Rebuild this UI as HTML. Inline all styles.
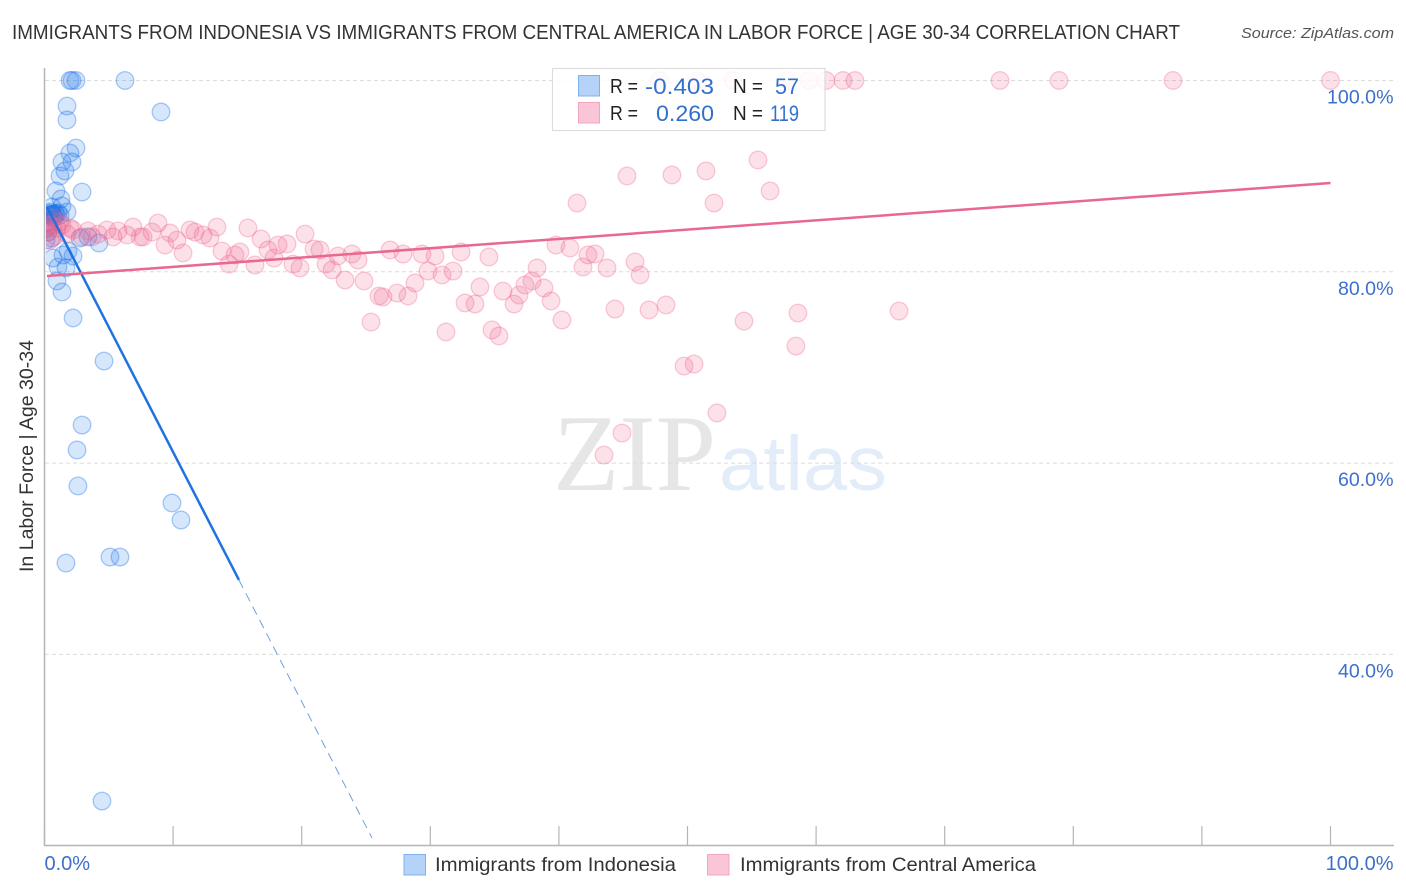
<!DOCTYPE html>
<html lang="en">
<head>
<meta charset="utf-8">
<title>Immigrants from Indonesia vs Immigrants from Central America in Labor Force | Age 30-34 Correlation Chart</title>
<style>
html,body{margin:0;padding:0;background:#fff;}
body{width:1406px;height:892px;overflow:hidden;}
svg{display:block;font-family:"Liberation Sans",sans-serif;}
</style>
</head>
<body>
<svg id="chart" xmlns="http://www.w3.org/2000/svg" width="1406" height="892" viewBox="0 0 1406 892">
  <defs>
    <clipPath id="plot-clip"><rect x="46" y="60" width="1348" height="785"/></clipPath>
  </defs>
  <rect x="0" y="0" width="1406" height="892" fill="#ffffff"/>
  <text x="12" y="39" font-size="20" fill="#333333" textLength="1168" lengthAdjust="spacingAndGlyphs">IMMIGRANTS FROM INDONESIA VS IMMIGRANTS FROM CENTRAL AMERICA IN LABOR FORCE | AGE 30-34 CORRELATION CHART</text>
  <text x="1394" y="38" font-size="15" font-style="italic" fill="#555555" text-anchor="end" textLength="153" lengthAdjust="spacingAndGlyphs">Source: ZipAtlas.com</text>

  <g>
    <text x="553" y="490" font-family="'Liberation Serif',serif" font-size="109" fill="#e6e6e6" textLength="163" lengthAdjust="spacingAndGlyphs">ZIP</text>
    <text x="719" y="490" font-size="77" fill="#e3edf9" textLength="168" lengthAdjust="spacingAndGlyphs">atlas</text>
  </g>

  <g id="grid"></g>
  <g id="axes"></g>
  <g id="marks-indonesia" clip-path="url(#plot-clip)"></g>
  <g id="marks-central" clip-path="url(#plot-clip)"></g>
  <g id="trends"></g>
  <g id="tick-labels"></g>

  <text transform="translate(33,456) rotate(-90)" font-size="19" fill="#333333" text-anchor="middle" textLength="232" lengthAdjust="spacingAndGlyphs">In Labor Force | Age 30-34</text>

  <g>
    <rect x="552.5" y="68.5" width="272.5" height="62" fill="#ffffff" fill-opacity="0.85" stroke="#dddddd" stroke-width="1.2"/>
    <rect x="578.5" y="75.5" width="21" height="20.5" fill="#b5d3f8" stroke="#7fb0ec" stroke-width="1"/>
    <rect x="578.5" y="102.5" width="21" height="20.5" fill="#fac5d6" stroke="#f3a5bf" stroke-width="1"/>
    <g font-size="20" fill="#222222">
      <text x="610" y="93" textLength="28" lengthAdjust="spacingAndGlyphs">R =</text>
      <text x="733" y="93" textLength="30" lengthAdjust="spacingAndGlyphs">N =</text>
      <text x="610" y="120" textLength="28" lengthAdjust="spacingAndGlyphs">R =</text>
      <text x="733" y="120" textLength="30" lengthAdjust="spacingAndGlyphs">N =</text>
    </g>
    <g font-size="22" fill="#3370cc">
      <text x="645" y="94" textLength="69" lengthAdjust="spacingAndGlyphs">-0.403</text>
      <text x="775" y="94" textLength="24" lengthAdjust="spacingAndGlyphs">57</text>
      <text x="656" y="121" textLength="58" lengthAdjust="spacingAndGlyphs">0.260</text>
      <text x="770" y="121" textLength="29" lengthAdjust="spacingAndGlyphs">119</text>
    </g>
  </g>

  <g>
    <rect x="404" y="854.5" width="21.5" height="20.5" fill="#b5d3f8" stroke="#7fb0ec" stroke-width="1"/>
    <text x="435" y="871" font-size="19.5" fill="#333333" textLength="241" lengthAdjust="spacingAndGlyphs">Immigrants from Indonesia</text>
    <rect x="707.5" y="854.5" width="21.5" height="20.5" fill="#fac5d6" stroke="#f3a5bf" stroke-width="1"/>
    <text x="740" y="871" font-size="19.5" fill="#333333" textLength="296" lengthAdjust="spacingAndGlyphs">Immigrants from Central America</text>
  </g>
</svg>
<script>
const yGridValues = [100, 80, 60, 40];
const yTickLabels = ["100.0%", "80.0%", "60.0%", "40.0%"];
const xTickValues = [0, 10, 20, 30, 40, 50, 60, 70, 80, 90, 100];
const xEndValues = [0, 100];
const xEndLabels = ["0.0%", "100.0%"];

const indonesiaX = [1.98, 2.14, 2.45, 6.26, 1.75, 1.75, 9.06, 2.45, 1.98, 2.14, 1.36, 1.59, 1.21, 2.92, 0.89, 1.28, 0.58, 1.36, 1.75, 0.43, 1.05, 0.27, 0.74, 0.43, 0.58, 0.82, 0.27, 0.66, 1.21, 2.76, 4.24, 3.38, 0.58, 1.83, 1.44, 2.22, 0.66, 1.05, 1.67, 0.97, 1.36, 2.22, 4.63, 2.92, 2.53, 2.60, 9.91, 10.61, 5.09, 5.87, 1.67, 4.47, 0.35, 0.19, 0.89, 0.12, 0.43];
const indonesiaY = [100, 100, 100, 100, 97.33, 95.87, 96.71, 92.94, 92.42, 91.48, 91.48, 90.54, 90.02, 88.34, 88.45, 87.61, 86.77, 86.88, 86.25, 86.25, 86.15, 85.94, 85.62, 85.21, 86.0, 86.1, 84.16, 86.0, 85.9, 83.53, 83.01, 83.64, 83.53, 82.17, 81.76, 81.65, 81.44, 80.50, 80.40, 79.04, 77.89, 75.17, 70.67, 63.98, 61.37, 57.61, 55.83, 54.05, 50.18, 50.18, 49.55, 24.67, 86.1, 84.58, 86.0, 83.32, 85.9];

const centralX = [47.78, 50.74, 53.54, 57.74, 59.45, 60.77, 62.09, 63.02, 74.30, 78.89, 87.75, 100, 41.41, 45.30, 48.79, 51.44, 55.48, 56.42, 52.06, 8.83, 13.41, 15.82, 6.88, 5.72, 4.86, 3.38, 2.22, 9.76, 8.36, 7.66, 7.43, 6.42, 5.33, 4.16, 2.92, 9.37, 10.30, 10.77, 11.31, 11.70, 12.33, 12.87, 13.80, 15.20, 14.35, 14.81, 16.37, 16.84, 17.38, 18.16, 18.86, 17.85, 19.32, 19.87, 20.26, 20.96, 21.42, 21.89, 22.36, 22.82, 23.91, 24.38, 23.37, 24.84, 25.39, 26.01, 26.32, 26.87, 27.88, 27.41, 28.27, 28.81, 29.35, 30.37, 29.82, 30.91, 31.77, 32.39, 34.56, 32.70, 33.48, 33.86, 31.22, 34.80, 35.34, 35.65, 36.51, 36.90, 37.36, 37.91, 38.30, 38.84, 39.39, 40.24, 39.77, 40.86, 41.87, 42.26, 42.81, 43.74, 45.92, 46.31, 44.36, 47.01, 48.33, 49.73, 50.51, 54.39, 58.59, 58.43, 66.45, 52.29, 44.91, 43.51, 0.43, 0.58, 0.97, 1.36, 0.27, 0.82, 1.75, 1.21, 3.69, 0.66, 0.43, 1.98, 0.12];
const centralY = [100, 100, 100, 100, 100, 100, 100, 100, 100, 100, 100, 100, 87.19, 90.02, 90.12, 90.54, 91.69, 88.45, 87.19, 85.10, 84.68, 84.58, 84.68, 84.27, 84.37, 84.27, 84.37, 84.06, 84.16, 83.64, 83.64, 83.85, 83.64, 83.95, 83.64, 82.80, 83.32, 81.97, 84.37, 84.16, 83.85, 83.53, 82.17, 82.07, 80.81, 81.76, 80.71, 83.43, 82.28, 82.80, 82.91, 81.44, 80.81, 80.40, 83.95, 82.38, 82.28, 80.81, 80.19, 81.65, 81.86, 81.23, 79.14, 79.04, 74.75, 77.47, 77.37, 82.28, 81.86, 77.78, 77.47, 78.83, 81.86, 81.65, 80.08, 79.67, 80.08, 82.07, 81.55, 76.74, 76.63, 78.41, 73.71, 73.92, 73.29, 77.99, 76.63, 77.57, 78.62, 79.04, 80.40, 78.31, 76.95, 74.96, 82.80, 82.49, 80.50, 81.76, 81.86, 80.40, 81.03, 79.67, 76.11, 76.01, 76.53, 70.15, 70.36, 74.85, 75.69, 72.24, 75.90, 65.24, 63.14, 60.84, 83.32, 84.79, 84.58, 84.89, 84.16, 83.74, 83.95, 85.21, 83.64, 85.62, 84.89, 84.58, 84.47];

const indonesiaTrendSolidX = [0.19, 15.12];
const indonesiaTrendSolidY = [86.78, 47.78];
const indonesiaTrendDashX = [15.12, 25.47];
const indonesiaTrendDashY = [47.78, 20.80];
const centralTrendX = [0.19, 100];
const centralTrendY = [79.56, 89.28];

const NS = "http://www.w3.org/2000/svg";
function xScale(v) { return 44.5 + v * 12.86; }
function yScale(v) { return 80.5 + (100 - v) * 9.565; }
function make(tag, attrs, parent) {
  const el = document.createElementNS(NS, tag);
  for (const k in attrs) el.setAttribute(k, attrs[k]);
  parent.appendChild(el);
  return el;
}

const gridGroup = document.getElementById("grid");
const axesGroup = document.getElementById("axes");
const labelGroup = document.getElementById("tick-labels");

yGridValues.forEach(function (v, i) {
  const line = make("line", { x1: 45, x2: 1394, y1: yScale(v), y2: yScale(v), stroke: "#dcdcdc", "stroke-width": 1, "stroke-dasharray": "4 3" }, gridGroup);
  
  
  const label = make("text", { x: 1393.5, y: yScale(v) + 23, "font-size": 19.6, fill: "#3d70cc", "text-anchor": "end" }, labelGroup);
  label.textContent = yTickLabels[i];
  
  
});

const yAxis = make("line", { x1: 44.5, x2: 44.5, y1: 68, y2: 845.5, stroke: "#b5b5b5", "stroke-width": 1.5 }, axesGroup);


const xAxis = make("line", { x1: 44, x2: 1394, y1: 845.5, y2: 845.5, stroke: "#b5b5b5", "stroke-width": 1.5 }, axesGroup);



xTickValues.forEach(function (v) {
  const tick = make("line", { x1: xScale(v), x2: xScale(v), y1: 826, y2: 845, stroke: "#b5b5b5", "stroke-width": 1.2 }, axesGroup);
  
  
});

xEndValues.forEach(function (v, i) {
  const label = make("text", { x: i === 0 ? xScale(v) : 1393.5, y: 870, "font-size": 20, fill: "#3d70cc", "text-anchor": i === 0 ? "start" : "end" }, labelGroup);
  label.textContent = xEndLabels[i];
  
  
});

const indonesiaGroup = document.getElementById("marks-indonesia");
indonesiaX.forEach(function (v, i) {
  const dot = make("circle", { cx: xScale(v), cy: yScale(indonesiaY[i]), r: 8.8, fill: "#1a73e8", "fill-opacity": 0.18, stroke: "#1a73e8", "stroke-opacity": 0.36, "stroke-width": 1.3 }, indonesiaGroup);
  
  
});

const centralGroup = document.getElementById("marks-central");
centralX.forEach(function (v, i) {
  const dot = make("circle", { cx: xScale(v), cy: yScale(centralY[i]), r: 8.8, fill: "#ee5f8c", "fill-opacity": 0.19, stroke: "#ee5f8c", "stroke-opacity": 0.32, "stroke-width": 1.3 }, centralGroup);
  
  
});

const trendGroup = document.getElementById("trends");
const blueSolid = make("line", { x1: xScale(indonesiaTrendSolidX[0]), y1: yScale(indonesiaTrendSolidY[0]), x2: xScale(indonesiaTrendSolidX[1]), y2: yScale(indonesiaTrendSolidY[1]), stroke: "#1f72e0", "stroke-width": 2.5 }, trendGroup);


const blueDash = make("line", { x1: xScale(indonesiaTrendDashX[0]), y1: yScale(indonesiaTrendDashY[0]), x2: xScale(indonesiaTrendDashX[1]), y2: yScale(indonesiaTrendDashY[1]), stroke: "#6f9fe0", "stroke-width": 1, "stroke-dasharray": "9 6" }, trendGroup);


const pinkLine = make("line", { x1: xScale(centralTrendX[0]), y1: yScale(centralTrendY[0]), x2: xScale(centralTrendX[1]), y2: yScale(centralTrendY[1]), stroke: "#e8688f", "stroke-width": 2.5 }, trendGroup);


</script>
</body>
</html>
